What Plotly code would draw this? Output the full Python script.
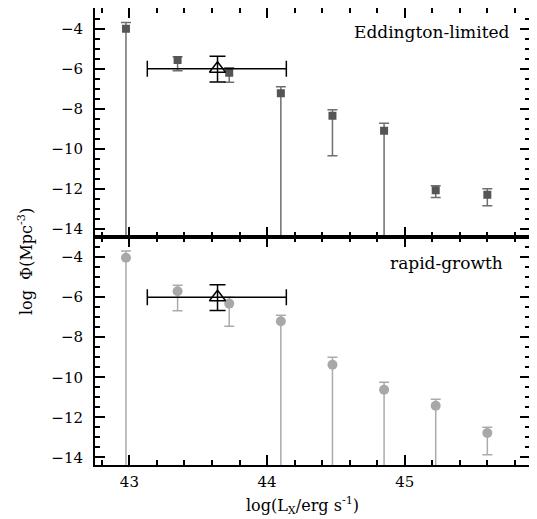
import plotly.graph_objects as go
from plotly.subplots import make_subplots

# ---------------- data ----------------
log_lx = [42.975, 43.35, 43.725, 44.1, 44.475, 44.85, 45.225, 45.6]

edd_phi = [-4.0, -5.57, -6.2, -7.23, -8.35, -9.1, -12.07, -12.3]
edd_hi = [-3.7, -5.4, -5.95, -6.9, -8.05, -8.73, -11.85, -12.0]
edd_lo = [None, -6.1, -6.68, None, -10.35, None, -12.43, -12.85]   # None = extends to the floor

rap_phi = [-4.03, -5.7, -6.32, -7.2, -9.37, -10.62, -11.42, -12.78]
rap_hi = [-3.7, -5.4, -6.0, -6.9, -9.0, -10.25, -11.1, -12.5]
rap_lo = [None, -6.68, -7.45, None, None, None, None, -13.87]

obs_lx = [43.64]
obs_lx_lo = [43.13]
obs_lx_hi = [44.14]
obs_phi = [-6.0]
obs_phi_hi = [-5.38]
obs_phi_lo = [-6.66]

panel_labels = ["Eddington-limited", "rapid-growth"]
x_range = [42.75, 45.91]
y_range = [-14.38, -2.97]
FLOOR = -20.0

FONT = "DejaVu Serif"


def err_plus(y, hi):
    return [h - v for v, h in zip(y, hi)]


def err_minus(y, lo):
    return [v - (FLOOR if l is None else l) for v, l in zip(y, lo)]


fig = make_subplots(rows=2, cols=1, shared_xaxes=True, vertical_spacing=0)

# top: Eddington-limited (dark squares)
fig.add_trace(go.Scatter(
    x=log_lx, y=edd_phi, mode="markers",
    marker=dict(symbol="square", size=8, color="#555555"),
    error_y=dict(type="data", symmetric=False,
                 array=err_plus(edd_phi, edd_hi),
                 arrayminus=err_minus(edd_phi, edd_lo),
                 color="#6e6e6e", thickness=1.5, width=5),
    showlegend=False), row=1, col=1)

# bottom: rapid-growth (light circles)
fig.add_trace(go.Scatter(
    x=log_lx, y=rap_phi, mode="markers",
    marker=dict(symbol="circle", size=10, color="#a8a8a8"),
    error_y=dict(type="data", symmetric=False,
                 array=err_plus(rap_phi, rap_hi),
                 arrayminus=err_minus(rap_phi, rap_lo),
                 color="#ababab", thickness=1.5, width=5),
    showlegend=False), row=2, col=1)

# observed point (open triangle) in both panels
for r in (1, 2):
    fig.add_trace(go.Scatter(
        x=obs_lx, y=obs_phi, mode="markers",
        marker=dict(symbol="triangle-up-open", size=14, color="black",
                    line=dict(width=1.5, color="black")),
        error_y=dict(type="data", symmetric=False,
                     array=err_plus(obs_phi, obs_phi_hi),
                     arrayminus=[v - l for v, l in zip(obs_phi, obs_phi_lo)],
                     color="black", thickness=1.5, width=8),
        error_x=dict(type="data", symmetric=False,
                     array=[h - v for v, h in zip(obs_lx, obs_lx_hi)],
                     arrayminus=[v - l for v, l in zip(obs_lx, obs_lx_lo)],
                     color="black", thickness=1.5, width=8),
        showlegend=False), row=r, col=1)

axis_common = dict(
    showline=True, linecolor="black", linewidth=2, mirror="allticks",
    ticks="inside", ticklen=10, tickwidth=1.5, tickcolor="black",
    showgrid=False, zeroline=False, automargin=False,
    tickfont=dict(family=FONT, size=15, color="black"),
)

for r in (1, 2):
    fig.update_xaxes(range=x_range, dtick=1, tick0=43,
                     minor=dict(dtick=0.2, tick0=43, ticks="inside", ticklen=5,
                                tickwidth=1.5, tickcolor="black", showgrid=False),
                     ticklabelstandoff=2,
                     showticklabels=(r == 2), row=r, col=1, **axis_common)
    fig.update_yaxes(range=y_range, dtick=2, tick0=-14,
                     minor=dict(dtick=0.5, tick0=-14, ticks="inside", ticklen=5,
                                tickwidth=1.5, tickcolor="black", showgrid=False),
                     ticklabelstandoff=7,
                     row=r, col=1, **axis_common)

# panel labels
fig.add_annotation(text=panel_labels[0], xref="x domain", yref="y domain",
                   x=0.9586, y=0.895, xanchor="right", yanchor="middle",
                   showarrow=False, font=dict(family=FONT, size=17, color="black"))
fig.add_annotation(text=panel_labels[1], xref="x2 domain", yref="y2 domain",
                   x=0.9425, y=0.886, xanchor="right", yanchor="middle",
                   showarrow=False, font=dict(family=FONT, size=17, color="black"))

# axis titles
fig.add_annotation(text="log(L<sub>X</sub>/erg s<sup>-1</sup>)", xref="paper", yref="paper",
                   x=0.478, y=0, yshift=-40, xanchor="center", yanchor="middle",
                   showarrow=False, font=dict(family=FONT, size=16, color="black"))
fig.add_annotation(text="log  Φ(Mpc<sup>-3</sup>)", xref="paper", yref="paper",
                   x=0, xshift=-70, y=0.444, xanchor="center", yanchor="middle",
                   textangle=-90, showarrow=False,
                   font=dict(family=FONT, size=16, color="black"))

# the page body adds an 8px margin, so the figure is sized to fit the 537x519 window
fig.update_layout(
    width=529, height=511,
    margin=dict(l=87, r=7, t=0, b=54),
    plot_bgcolor="white", paper_bgcolor="white",
    font=dict(family=FONT, size=15, color="black"),
)

fig.write_html("out.html")
